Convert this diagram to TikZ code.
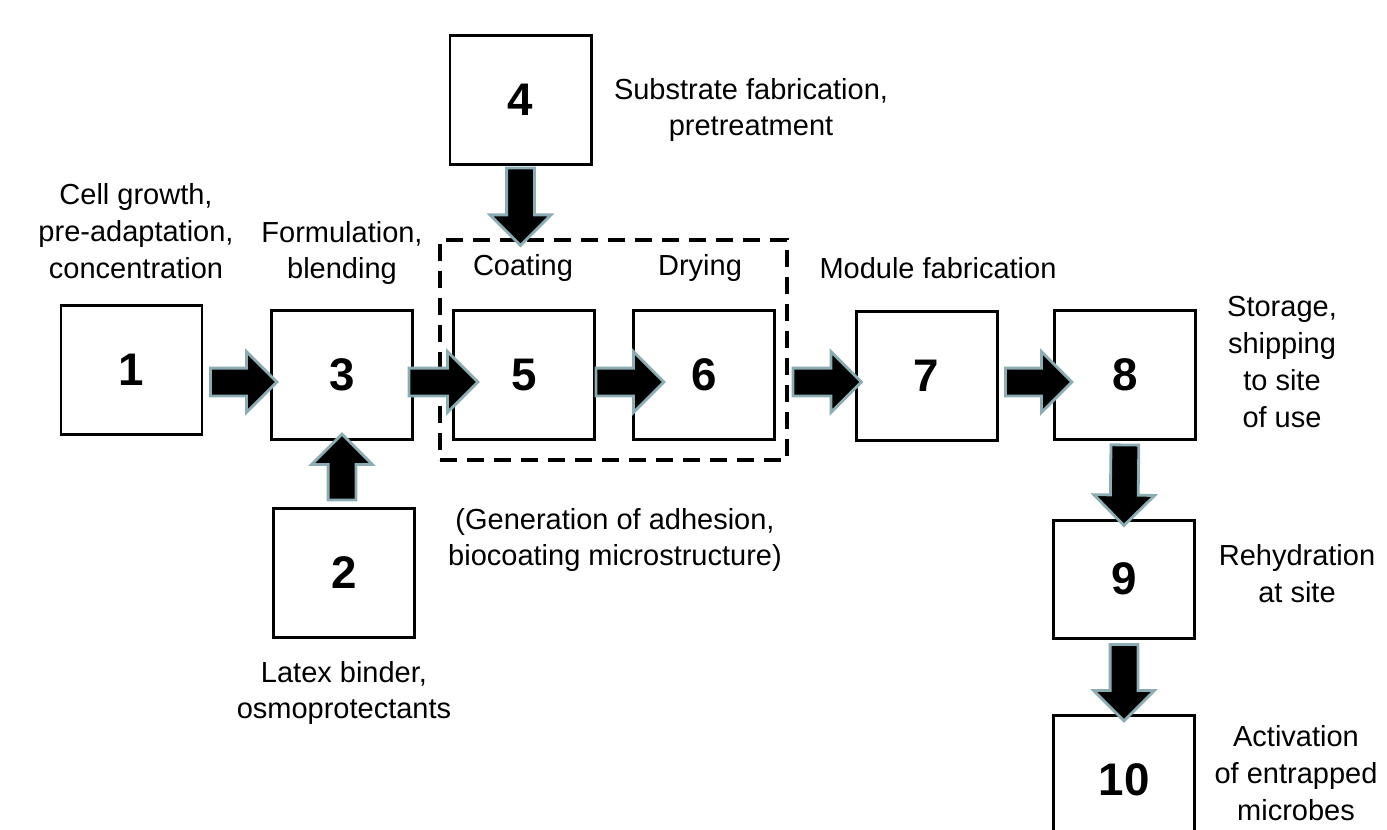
\documentclass[tikz,border=0pt]{standalone}
\usepackage{fontspec}
\setmainfont{Liberation Sans}
\usepackage{xcolor}
\usepackage{tikz}
\usetikzlibrary{calc,shapes.arrows}

\definecolor{arrowrim}{RGB}{138,172,178}

\newcommand{\fatarrow}[2]{%
  \path let \p1=#1, \p2=#2,
    \n1={veclen(\x2-\x1,\y2-\y1)}, \n2={atan2(\y2-\y1,\x2-\x1)} in
    node[fat, minimum height=\n1, rotate=\n2] at ($(\p1)!0.5!(\p2)$) {};}

\begin{document}
\begin{tikzpicture}[x=0.2mm,y=-0.2mm,
    box/.style={draw, line width=1.7pt, minimum width=28.2mm, minimum height=25.8mm,
      inner sep=0pt, font=\fontsize{26}{30}\selectfont\bfseries},
    stagebox/.style={draw, line width=1.9pt, dash pattern=on 3.4mm off 2mm,
      minimum width=69.4mm, minimum height=44mm, inner sep=0pt},
    lab/.style={align=center, inner sep=0pt, font=\fontsize{16.5}{21}\selectfont},
    fat/.style={single arrow, draw=arrowrim, fill=black, line width=1.6pt,
      inner xsep=0pt, inner ysep=2.5mm, single arrow head extend=3.3mm,
      single arrow tip angle=90, single arrow head indent=0pt, anchor=center}]
			\useasboundingbox (0,0) rectangle (1387,829);
			\clip (0,0) rectangle (1387,829);
			\coordinate (row) at (0,382);
			% boxes
			\node[box] (n1) at (131.5,369.5) {1};
			\node[box] (n3) at (342,375) {3};
			\node[box] (n5) at (524,375) {5};
			\node[box] (n6) at (704,375) {6};
			\node[box] (n7) at (926.5,375.5) {7};
			\node[box] (n8) at (1125,375) {8};
			\node[box] (n2) at (344,573) {2};
			\node[box] (n4) at (520.5,100) {4};
			\node[box, minimum height=23.6mm] (n9) at (1124,579) {9};
			\node[box] (n10) at (1124,780) {10};
			\node[stagebox] (stage) at (613.5,350) {};
			% labels
			\node[lab] (l1) at (136,231) {Cell growth,\\pre-adaptation,\\concentration};
			\node[lab] (l3) at (342,253) {Formulation,\\blending};
			\node[lab] (l4) at (751,110) {Substrate fabrication,\\pretreatment};
			\node[lab] (l5) at (523,268) {Coating};
			\node[lab] (l6) at (700,268) {Drying};
			\node[lab] (l7) at (938,268) {Module fabrication};
			\node[lab] (l8) at (1282,362) {Storage,\\shipping\\to site\\of use};
			\node[lab] (l9) at (1297,574) {Rehydration\\at site};
			\node[lab] (l10) at (1296,773) {Activation\\of entrapped\\microbes};
			\node[lab] (lg) at (615,540) {(Generation of adhesion,\\biocoating microstructure)};
			\node[lab] (l2) at (344,693) {Latex binder,\\osmoprotectants};
			% arrows
			\fatarrow{(n1.east |- row)}{(n3.west |- row)}
			\fatarrow{($(n3.east |- row)+(-12,0)$)}{($(n5.west |- row)+(19,0)$)}
			\fatarrow{($(n5.east |- row)+(-7,0)$)}{($(n6.west |- row)+(25,0)$)}
			\fatarrow{($(n6.east |- row)+(10,0)$)}{(n7.west |- row)}
			\fatarrow{(n7.east |- row)}{($(n8.west |- row)+(12,0)$)}
			\fatarrow{(n2.north -| n3.south)}{(n3.south)}
			\fatarrow{($(n4.south)+(0,-5)$)}{(n4.south |- stage.north)}
			\fatarrow{($(n8.south)+(0,-3)$)}{(n9.north)}
			\fatarrow{($(n9.south)+(0,-2)$)}{(n10.north)}
		\end{tikzpicture}
\end{document}
